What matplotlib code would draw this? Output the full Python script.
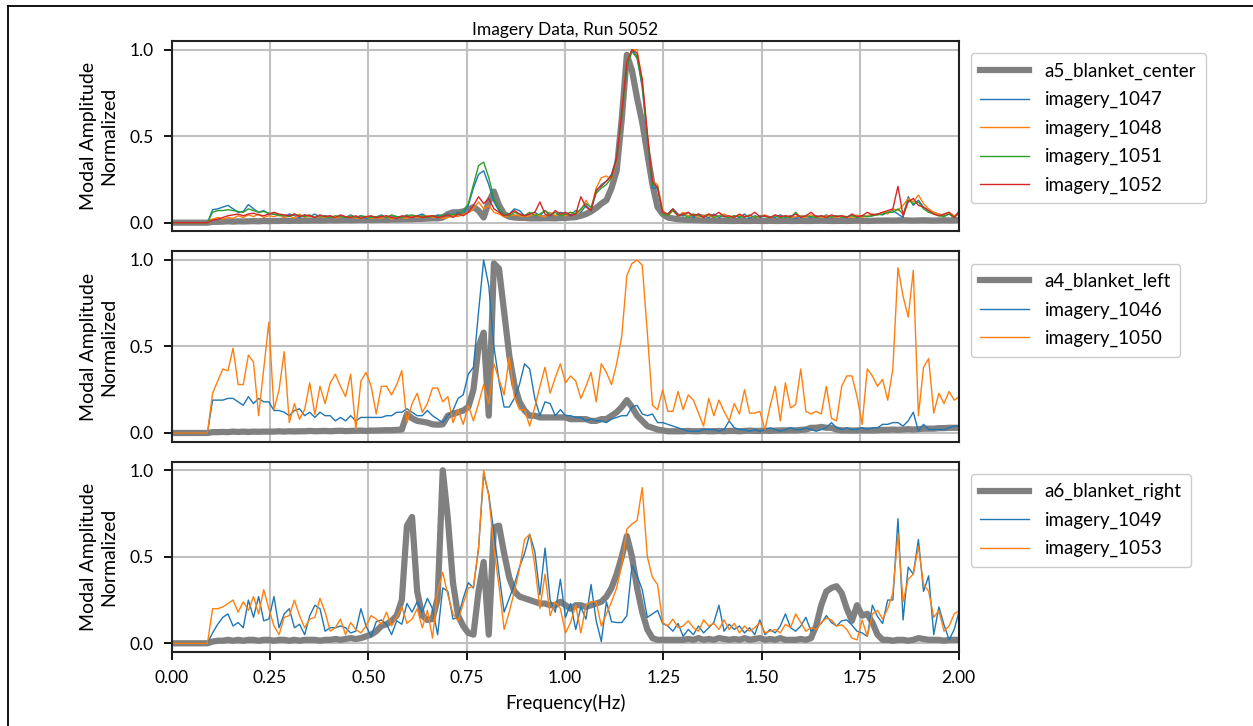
import matplotlib
matplotlib.use('Agg')
import matplotlib.pyplot as plt
from matplotlib.lines import Line2D
import numpy as np

plt.rcParams['font.family'] = ['Lato', 'DejaVu Sans']

# frequency grid (Hz), ~0.013 Hz spacing
freq = np.arange(155) * 0.013

# ---------- top panel: a5 blanket center ----------
a5_blanket_center = [
    0, 0, 0, 0, 0, 0, 0, 0, 0.005, 0.005,
    0.006, 0.008, 0.006, 0.008, 0.007, 0.008, 0.009, 0.008, 0.010, 0.009,
    0.010, 0.010, 0.012, 0.010, 0.012, 0.011, 0.012, 0.012, 0.013, 0.012,
    0.013, 0.014, 0.013, 0.014, 0.015, 0.014, 0.015, 0.016, 0.015, 0.016,
    0.016, 0.017, 0.016, 0.018, 0.018, 0.019, 0.020, 0.020, 0.022, 0.022,
    0.024, 0.025, 0.025, 0.030, 0.050, 0.060, 0.060, 0.065, 0.075, 0.090,
    0.070, 0.030, 0.120, 0.180, 0.100, 0.050, 0.035, 0.030, 0.028, 0.028,
    0.025, 0.025, 0.025, 0.026, 0.026, 0.025, 0.027, 0.028, 0.030, 0.032,
    0.040, 0.050, 0.065, 0.085, 0.110, 0.130, 0.200, 0.300, 0.600, 0.970,
    0.880, 0.720, 0.580, 0.400, 0.220, 0.090, 0.050, 0.030, 0.025, 0.020,
    0.018, 0.016, 0.015, 0.014, 0.013, 0.012, 0.012, 0.011, 0.011, 0.010,
    0.010, 0.011, 0.010, 0.010, 0.011, 0.010, 0.010, 0.011, 0.010, 0.010,
    0.011, 0.010, 0.010, 0.011, 0.010, 0.010, 0.011, 0.012, 0.011, 0.010,
    0.010, 0.011, 0.010, 0.011, 0.012, 0.011, 0.010, 0.011, 0.012, 0.012,
    0.013, 0.012, 0.013, 0.014, 0.013, 0.012, 0.013, 0.014, 0.013, 0.012,
    0.013, 0.014, 0.013, 0.014, 0.015]
imagery_1047 = [
    0, 0, 0, 0, 0, 0, 0, 0, 0.075, 0.08,
    0.09, 0.10, 0.08, 0.06, 0.065, 0.105, 0.08, 0.06, 0.07, 0.05,
    0.05, 0.045, 0.035, 0.05, 0.04, 0.03, 0.045, 0.035, 0.05, 0.03,
    0.04, 0.035, 0.025, 0.04, 0.03, 0.045, 0.03, 0.04, 0.025, 0.035,
    0.03, 0.045, 0.03, 0.04, 0.035, 0.03, 0.045, 0.03, 0.04, 0.05,
    0.035, 0.03, 0.045, 0.04, 0.05, 0.04, 0.06, 0.05, 0.10, 0.20,
    0.28, 0.30, 0.22, 0.12, 0.07, 0.04, 0.05, 0.08, 0.07, 0.04,
    0.05, 0.06, 0.04, 0.07, 0.05, 0.04, 0.06, 0.05, 0.045, 0.07,
    0.06, 0.10, 0.07, 0.18, 0.22, 0.24, 0.28, 0.38, 0.62, 0.90,
    1.00, 0.96, 0.78, 0.48, 0.20, 0.20, 0.06, 0.05, 0.08, 0.05,
    0.04, 0.06, 0.03, 0.05, 0.04, 0.03, 0.05, 0.03, 0.04, 0.03,
    0.04, 0.03, 0.05, 0.025, 0.04, 0.03, 0.04, 0.035, 0.03, 0.045,
    0.03, 0.04, 0.025, 0.04, 0.035, 0.03, 0.04, 0.03, 0.045, 0.03,
    0.035, 0.04, 0.03, 0.045, 0.03, 0.04, 0.035, 0.04, 0.05, 0.045,
    0.06, 0.07, 0.05, 0.03, 0.15, 0.10, 0.13, 0.09, 0.07, 0.06,
    0.05, 0.04, 0.05, 0.03, 0.06]
imagery_1048 = [
    0, 0, 0, 0, 0, 0, 0, 0, 0.02, 0.03,
    0.02, 0.03, 0.025, 0.04, 0.03, 0.045, 0.035, 0.05, 0.03, 0.04,
    0.035, 0.045, 0.03, 0.04, 0.025, 0.05, 0.03, 0.04, 0.03, 0.035,
    0.03, 0.04, 0.025, 0.035, 0.03, 0.04, 0.025, 0.03, 0.035, 0.025,
    0.03, 0.025, 0.04, 0.02, 0.035, 0.03, 0.025, 0.04, 0.03, 0.035,
    0.04, 0.03, 0.035, 0.025, 0.03, 0.04, 0.035, 0.05, 0.06, 0.08,
    0.12, 0.08, 0.10, 0.06, 0.05, 0.035, 0.04, 0.045, 0.04, 0.035,
    0.04, 0.05, 0.04, 0.035, 0.06, 0.04, 0.05, 0.04, 0.06, 0.05,
    0.07, 0.13, 0.08, 0.20, 0.26, 0.27, 0.25, 0.36, 0.63, 0.92,
    1.00, 1.00, 0.82, 0.50, 0.24, 0.22, 0.07, 0.04, 0.07, 0.04,
    0.06, 0.04, 0.05, 0.03, 0.045, 0.04, 0.03, 0.04, 0.05, 0.035,
    0.03, 0.045, 0.035, 0.04, 0.03, 0.035, 0.045, 0.03, 0.04, 0.03,
    0.04, 0.03, 0.035, 0.04, 0.03, 0.045, 0.035, 0.03, 0.04, 0.035,
    0.03, 0.04, 0.035, 0.03, 0.045, 0.03, 0.04, 0.05, 0.045, 0.06,
    0.05, 0.08, 0.07, 0.10, 0.14, 0.12, 0.16, 0.11, 0.08, 0.06,
    0.05, 0.045, 0.06, 0.04, 0.05]
imagery_1051 = [
    0, 0, 0, 0, 0, 0, 0, 0, 0.06, 0.07,
    0.07, 0.075, 0.07, 0.065, 0.06, 0.08, 0.07, 0.06, 0.065, 0.055,
    0.05, 0.04, 0.045, 0.035, 0.05, 0.04, 0.035, 0.045, 0.03, 0.04,
    0.035, 0.03, 0.04, 0.035, 0.03, 0.04, 0.03, 0.04, 0.035, 0.03,
    0.035, 0.04, 0.03, 0.045, 0.035, 0.03, 0.04, 0.045, 0.035, 0.04,
    0.03, 0.04, 0.035, 0.045, 0.04, 0.05, 0.045, 0.07, 0.11, 0.22,
    0.33, 0.35, 0.26, 0.14, 0.08, 0.05, 0.04, 0.06, 0.05, 0.04,
    0.06, 0.04, 0.05, 0.07, 0.04, 0.06, 0.04, 0.05, 0.06, 0.05,
    0.08, 0.11, 0.09, 0.17, 0.20, 0.22, 0.26, 0.37, 0.62, 0.90,
    0.99, 0.95, 0.80, 0.50, 0.22, 0.21, 0.05, 0.04, 0.07, 0.04,
    0.05, 0.03, 0.05, 0.04, 0.035, 0.05, 0.03, 0.04, 0.035, 0.03,
    0.04, 0.035, 0.03, 0.045, 0.03, 0.04, 0.035, 0.03, 0.04, 0.03,
    0.035, 0.03, 0.06, 0.03, 0.04, 0.035, 0.03, 0.04, 0.03, 0.035,
    0.04, 0.03, 0.035, 0.04, 0.03, 0.04, 0.035, 0.04, 0.045, 0.05,
    0.06, 0.06, 0.08, 0.05, 0.13, 0.11, 0.12, 0.08, 0.06, 0.05,
    0.04, 0.035, 0.05, 0.03, 0.06]
imagery_1052 = [
    0, 0, 0, 0, 0, 0, 0, 0, 0.015, 0.02,
    0.03, 0.04, 0.045, 0.05, 0.04, 0.05, 0.055, 0.045, 0.04, 0.05,
    0.06, 0.05, 0.045, 0.04, 0.05, 0.035, 0.045, 0.04, 0.03, 0.045,
    0.035, 0.04, 0.03, 0.045, 0.035, 0.03, 0.04, 0.025, 0.035, 0.04,
    0.03, 0.035, 0.04, 0.03, 0.025, 0.04, 0.035, 0.03, 0.04, 0.03,
    0.035, 0.04, 0.03, 0.035, 0.045, 0.03, 0.05, 0.04, 0.06, 0.10,
    0.15, 0.11, 0.14, 0.08, 0.06, 0.04, 0.05, 0.07, 0.05, 0.04,
    0.05, 0.06, 0.12, 0.05, 0.04, 0.07, 0.05, 0.06, 0.04, 0.05,
    0.15, 0.09, 0.07, 0.19, 0.21, 0.24, 0.27, 0.37, 0.64, 0.93,
    1.00, 0.98, 0.83, 0.52, 0.24, 0.20, 0.06, 0.05, 0.08, 0.04,
    0.05, 0.06, 0.04, 0.05, 0.03, 0.05, 0.04, 0.06, 0.035, 0.04,
    0.03, 0.05, 0.035, 0.04, 0.06, 0.035, 0.04, 0.03, 0.045, 0.035,
    0.04, 0.035, 0.05, 0.03, 0.04, 0.06, 0.035, 0.04, 0.03, 0.045,
    0.035, 0.04, 0.03, 0.05, 0.035, 0.04, 0.06, 0.045, 0.05, 0.06,
    0.07, 0.08, 0.21, 0.04, 0.12, 0.14, 0.10, 0.09, 0.07, 0.05,
    0.04, 0.05, 0.06, 0.03, 0.07]

# ---------- middle panel: a4 blanket left ----------
a4_blanket_left = [
    0, 0, 0, 0, 0, 0, 0, 0, 0.005, 0.005,
    0.006, 0.005, 0.008, 0.006, 0.008, 0.006, 0.008, 0.007, 0.008, 0.008,
    0.008, 0.010, 0.008, 0.010, 0.009, 0.010, 0.010, 0.012, 0.010, 0.011,
    0.012, 0.010, 0.012, 0.013, 0.011, 0.012, 0.013, 0.014, 0.012, 0.014,
    0.014, 0.015, 0.016, 0.016, 0.018, 0.020, 0.110, 0.085, 0.070, 0.065,
    0.060, 0.050, 0.048, 0.050, 0.100, 0.110, 0.120, 0.130, 0.150, 0.250,
    0.500, 0.580, 0.100, 0.980, 0.950, 0.700, 0.450, 0.280, 0.180, 0.130,
    0.100, 0.100, 0.090, 0.090, 0.090, 0.090, 0.090, 0.090, 0.080, 0.080,
    0.080, 0.080, 0.070, 0.070, 0.080, 0.080, 0.100, 0.120, 0.150, 0.190,
    0.150, 0.100, 0.070, 0.040, 0.030, 0.020, 0.015, 0.010, 0.010, 0.010,
    0.010, 0.012, 0.010, 0.010, 0.012, 0.010, 0.010, 0.012, 0.010, 0.012,
    0.012, 0.010, 0.012, 0.014, 0.012, 0.012, 0.014, 0.012, 0.014, 0.015,
    0.015, 0.016, 0.015, 0.018, 0.020, 0.030, 0.030, 0.035, 0.030, 0.030,
    0.020, 0.015, 0.015, 0.014, 0.015, 0.016, 0.015, 0.015, 0.016, 0.018,
    0.018, 0.020, 0.018, 0.020, 0.022, 0.020, 0.022, 0.025, 0.025, 0.025,
    0.028, 0.028, 0.030, 0.030, 0.030]
imagery_1046 = [
    0, 0, 0, 0, 0, 0, 0, 0, 0.19, 0.19,
    0.19, 0.20, 0.20, 0.18, 0.16, 0.21, 0.17, 0.20, 0.18, 0.18,
    0.13, 0.13, 0.12, 0.10, 0.13, 0.14, 0.10, 0.12, 0.09, 0.12,
    0.10, 0.10, 0.07, 0.09, 0.07, 0.10, 0.07, 0.09, 0.09, 0.09,
    0.09, 0.09, 0.10, 0.10, 0.12, 0.12, 0.14, 0.12, 0.10, 0.10,
    0.13, 0.10, 0.08, 0.06, 0.10, 0.13, 0.20, 0.22, 0.34, 0.38,
    0.70, 1.00, 0.85, 0.50, 0.30, 0.15, 0.15, 0.20, 0.28, 0.40,
    0.37, 0.20, 0.10, 0.18, 0.17, 0.10, 0.135, 0.10, 0.10, 0.09,
    0.09, 0.07, 0.08, 0.07, 0.07, 0.06, 0.08, 0.09, 0.10, 0.10,
    0.15, 0.16, 0.11, 0.10, 0.11, 0.06, 0.06, 0.05, 0.04, 0.03,
    0.02, 0.01, 0.01, 0.01, 0.02, 0.02, 0.02, 0.01, 0.02, 0.07,
    0.03, 0.02, 0.02, 0.01, 0.02, 0.01, 0.02, 0.03, 0.02, 0.01,
    0.02, 0.03, 0.02, 0.02, 0.03, 0.02, 0.01, 0.02, 0.03, 0.06,
    0.03, 0.02, 0.03, 0.02, 0.02, 0.03, 0.02, 0.03, 0.03, 0.05,
    0.05, 0.06, 0.06, 0.04, 0.07, 0.12, 0.01, 0.05, 0.02, 0.02,
    0.02, 0.02, 0.03, 0.04, 0.04]
imagery_1050 = [
    0, 0, 0, 0, 0, 0, 0, 0, 0.23, 0.30,
    0.37, 0.36, 0.49, 0.28, 0.28, 0.45, 0.41, 0.10, 0.37, 0.64,
    0.135, 0.25, 0.47, 0.06, 0.17, 0.08, 0.135, 0.29, 0.106, 0.27,
    0.17, 0.29, 0.34, 0.27, 0.21, 0.34, 0.02, 0.30, 0.35, 0.27,
    0.11, 0.27, 0.27, 0.22, 0.28, 0.36, 0.06, 0.17, 0.23, 0.12,
    0.17, 0.26, 0.26, 0.18, 0.21, 0.06, 0.135, 0.05, 0.16, 0.07,
    0.17, 0.28, 0.17, 0.40, 0.31, 0.22, 0.44, 0.21, 0.135, 0.135,
    0.04, 0.15, 0.27, 0.38, 0.23, 0.32, 0.40, 0.29, 0.33, 0.30,
    0.20, 0.27, 0.35, 0.18, 0.40, 0.35, 0.28, 0.40, 0.56, 0.91,
    0.98, 1.00, 0.97, 0.58, 0.16, 0.135, 0.25, 0.125, 0.125, 0.24,
    0.135, 0.22, 0.19, 0.115, 0.04, 0.20, 0.10, 0.19, 0.125, 0.07,
    0.17, 0.11, 0.25, 0.115, 0.115, 0.125, 0.02, 0.155, 0.27, 0.07,
    0.29, 0.145, 0.165, 0.37, 0.125, 0.11, 0.125, 0.11, 0.27, 0.085,
    0.07, 0.27, 0.33, 0.33, 0.21, 0.05, 0.37, 0.33, 0.27, 0.31,
    0.19, 0.37, 0.955, 0.79, 0.67, 0.94, 0.10, 0.38, 0.43, 0.115,
    0.23, 0.17, 0.24, 0.19, 0.21]

# ---------- bottom panel: a6 blanket right ----------
a6_blanket_right = [
    0, 0, 0, 0, 0, 0, 0, 0, 0.010, 0.015,
    0.015, 0.020, 0.015, 0.020, 0.015, 0.020, 0.020, 0.015, 0.020, 0.020,
    0.015, 0.020, 0.020, 0.015, 0.020, 0.015, 0.020, 0.020, 0.020, 0.015,
    0.020, 0.020, 0.025, 0.020, 0.025, 0.030, 0.025, 0.030, 0.040, 0.050,
    0.070, 0.100, 0.110, 0.130, 0.160, 0.250, 0.680, 0.730, 0.300, 0.160,
    0.135, 0.140, 0.260, 1.000, 0.720, 0.350, 0.160, 0.100, 0.060, 0.050,
    0.300, 0.470, 0.050, 0.670, 0.680, 0.520, 0.380, 0.300, 0.270, 0.260,
    0.250, 0.240, 0.230, 0.230, 0.220, 0.220, 0.240, 0.220, 0.200, 0.220,
    0.220, 0.210, 0.220, 0.230, 0.240, 0.270, 0.320, 0.400, 0.500, 0.620,
    0.500, 0.320, 0.180, 0.080, 0.030, 0.020, 0.020, 0.020, 0.020, 0.020,
    0.020, 0.025, 0.020, 0.030, 0.020, 0.025, 0.020, 0.030, 0.025, 0.020,
    0.025, 0.020, 0.030, 0.020, 0.025, 0.030, 0.020, 0.025, 0.020, 0.030,
    0.020, 0.020, 0.020, 0.025, 0.020, 0.030, 0.100, 0.220, 0.300, 0.320,
    0.330, 0.290, 0.200, 0.130, 0.220, 0.160, 0.170, 0.120, 0.050, 0.020,
    0.020, 0.015, 0.020, 0.020, 0.015, 0.020, 0.030, 0.025, 0.020, 0.020,
    0.020, 0.015, 0.020, 0.020, 0.020]
imagery_1049 = [
    0, 0, 0, 0, 0, 0, 0, 0, 0.06, 0.11,
    0.15, 0.17, 0.10, 0.12, 0.09, 0.25, 0.15, 0.27, 0.13, 0.14,
    0.27, 0.09, 0.17, 0.20, 0.09, 0.11, 0.05, 0.16, 0.22, 0.20,
    0.07, 0.09, 0.09, 0.10, 0.09, 0.06, 0.07, 0.20, 0.10, 0.04,
    0.125, 0.135, 0.11, 0.05, 0.13, 0.11, 0.23, 0.18, 0.24, 0.18,
    0.26, 0.20, 0.05, 0.32, 0.30, 0.14, 0.15, 0.26, 0.35, 0.32,
    0.55, 0.98, 0.86, 0.64, 0.40, 0.18, 0.26, 0.34, 0.44, 0.52,
    0.63, 0.53, 0.28, 0.55, 0.25, 0.18, 0.37, 0.15, 0.23, 0.08,
    0.21, 0.14, 0.34, 0.13, 0.01, 0.24, 0.125, 0.12, 0.12, 0.16,
    0.45, 0.39, 0.31, 0.15, 0.17, 0.19, 0.115, 0.10, 0.07, 0.115,
    0.04, 0.08, 0.05, 0.10, 0.06, 0.09, 0.12, 0.22, 0.07, 0.11,
    0.08, 0.10, 0.06, 0.09, 0.05, 0.135, 0.05, 0.08, 0.06, 0.10,
    0.17, 0.09, 0.07, 0.10, 0.15, 0.07, 0.09, 0.115, 0.16, 0.12,
    0.10, 0.13, 0.135, 0.105, 0.07, 0.06, 0.04, 0.22, 0.155, 0.115,
    0.25, 0.25, 0.72, 0.135, 0.44, 0.40, 0.60, 0.30, 0.39, 0.05,
    0.21, 0.107, 0.02, 0.08, 0.19]
imagery_1053 = [
    0, 0, 0, 0, 0, 0, 0, 0, 0.20, 0.20,
    0.21, 0.23, 0.25, 0.18, 0.24, 0.19, 0.27, 0.17, 0.31, 0.20,
    0.10, 0.05, 0.15, 0.16, 0.25, 0.16, 0.09, 0.14, 0.15, 0.26,
    0.18, 0.07, 0.09, 0.14, 0.05, 0.12, 0.08, 0.06, 0.10, 0.16,
    0.14, 0.11, 0.18, 0.10, 0.15, 0.21, 0.115, 0.14, 0.20, 0.09,
    0.19, 0.03, 0.30, 0.41, 0.28, 0.17, 0.13, 0.23, 0.32, 0.33,
    0.55, 1.00, 0.85, 0.55, 0.33, 0.08, 0.18, 0.30, 0.43, 0.60,
    0.63, 0.45, 0.20, 0.40, 0.16, 0.24, 0.20, 0.06, 0.12, 0.22,
    0.06, 0.22, 0.24, 0.24, 0.10, 0.17, 0.24, 0.32, 0.45, 0.66,
    0.69, 0.71, 0.90, 0.50, 0.38, 0.34, 0.12, 0.10, 0.14, 0.09,
    0.10, 0.13, 0.09, 0.07, 0.135, 0.10, 0.115, 0.08, 0.135, 0.08,
    0.115, 0.06, 0.10, 0.07, 0.09, 0.12, 0.06, 0.07, 0.08, 0.06,
    0.11, 0.09, 0.17, 0.12, 0.07, 0.09, 0.08, 0.12, 0.145, 0.135,
    0.10, 0.107, 0.08, 0.03, 0.02, 0.135, 0.04, 0.17, 0.19, 0.14,
    0.20, 0.29, 0.63, 0.24, 0.37, 0.40, 0.56, 0.34, 0.30, 0.15,
    0.19, 0.07, 0.10, 0.17, 0.19]

panels = [
    (a5_blanket_center, 'a5_blanket_center',
     [(imagery_1047, 'imagery_1047'), (imagery_1048, 'imagery_1048'),
      (imagery_1051, 'imagery_1051'), (imagery_1052, 'imagery_1052')]),
    (a4_blanket_left, 'a4_blanket_left',
     [(imagery_1046, 'imagery_1046'), (imagery_1050, 'imagery_1050')]),
    (a6_blanket_right, 'a6_blanket_right',
     [(imagery_1049, 'imagery_1049'), (imagery_1053, 'imagery_1053')]),
]
colors = ['#1f77b4', '#ff7f0e', '#2ca02c', '#d62728']

fig, axes = plt.subplots(3, 1, figsize=(12.53, 7.26), dpi=100, sharex=True)
fig.subplots_adjust(left=0.137, right=0.765, top=0.9435, bottom=0.102, hspace=0.105)

for ax, (ref, ref_name, series) in zip(axes, panels):
    ax.plot(freq, ref, color='gray', lw=4.5, label=ref_name)
    for (vals, name), c in zip(series, colors):
        ax.plot(freq, vals, color=c, lw=1, label=name)
    ax.set_xlim(0, 2)
    ax.set_ylim(-0.05, 1.05)
    ax.set_yticks([0, 0.5, 1.0])
    ax.grid(True, color='#c0c0c0', lw=1.5)
    ax.set_ylabel('Modal Amplitude\nNormalized', fontsize=14, labelpad=9)
    for sp in ax.spines.values():
        sp.set_linewidth(1.5)
        sp.set_color('#222222')
    ax.tick_params(labelsize=12.5, width=1.3, length=6, pad=7)
    ax.legend(loc='upper left', bbox_to_anchor=(1.0, 1.0), borderaxespad=0.65,
              fontsize=13.5, handlelength=2.6, handletextpad=0.85, labelspacing=0.6,
              borderpad=0.5, edgecolor='#cccccc', fancybox=True, framealpha=1)

for ax in axes[:2]:
    ax.tick_params(axis='x', bottom=False)

axes[2].set_xticks(np.arange(0, 2.01, 0.25))
axes[2].set_xlabel('Frequency(Hz)', fontsize=13.5, labelpad=6)
axes[0].set_title('Imagery Data, Run 5052', fontsize=12.5, pad=4)

# screenshot frame lines
fig.add_artist(Line2D([0.006, 1.0], [0.9924, 0.9924], color='black', lw=1.3,
                      transform=fig.transFigure))
fig.add_artist(Line2D([0.006, 0.006], [0.0, 0.9924], color='black', lw=1.3,
                      transform=fig.transFigure))

fig.savefig('out.png', dpi=100, facecolor='white')
